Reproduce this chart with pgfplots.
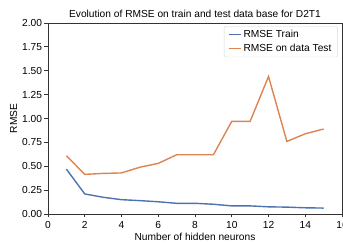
\documentclass[border=0pt]{standalone}
\usepackage{pgfplots}
\pgfplotsset{compat=1.18}
\usepackage{fontspec}
\setmainfont{Liberation Sans}
\definecolor{sbblue}{HTML}{4C72B0}
\definecolor{sborange}{HTML}{DD8452}
\begin{document}
\begin{tikzpicture}[x=1bp,y=1bp]
\begin{axis}[
  name=ax,
  scale only axis,
  width=294bp, height=191bp,
  xmin=0, xmax=16, ymin=0, ymax=2,
  xtick={0,2,...,16},
  ytick={0,0.25,...,2},
  yticklabel style={xshift=1bp, /pgf/number format/.cd,fixed,fixed zerofill,precision=2},
  /pgf/number format/assume math mode=true,
  tick align=outside,
  tick pos=left,
  major tick length=3.5bp,
  axis line style={black!80, line width=0.8bp},
  tick style={black!80, line width=0.8bp},
  font=\fontsize{10.2bp}{11.5bp}\selectfont,
  title={Evolution of RMSE on train and test data base for D2T1},
  title style={yshift=-4.5bp},
  xlabel={Number of hidden neurons},
  ylabel={RMSE},
  xlabel style={yshift=2bp},
  ylabel style={yshift=-2bp},
  legend pos=north east,
  legend style={draw=black!15, rounded corners=2bp, font=\fontsize{10.2bp}{11.5bp}\selectfont, inner xsep=4bp, inner ysep=2bp, row sep=1bp, at={(0.985,0.984)}},
  legend cell align=left,
  legend image code/.code={\draw[#1, line width=1.4bp] (0bp,0bp) -- (12bp,0bp);},
]
\addplot[sbblue, line width=1.4bp] coordinates {
(1,0.47) (2,0.21) (3,0.175) (4,0.15) (5,0.14) (6,0.128) (7,0.112) (8,0.112) (9,0.102) (10,0.085) (11,0.085) (12,0.075) (13,0.072) (14,0.065) (15,0.062)
};
\addlegendentry{RMSE Train}
\addplot[sborange, line width=1.4bp] coordinates {
(1,0.61) (2,0.415) (3,0.425) (4,0.43) (5,0.49) (6,0.53) (7,0.62) (8,0.62) (9,0.62) (10,0.97) (11,0.97) (12,1.44) (13,0.76) (14,0.84) (15,0.89)
};
\addlegendentry{RMSE on data Test}
\end{axis}
\pgfresetboundingbox
\path[use as bounding box] ([xshift=-48bp,yshift=-29bp]ax.south west) rectangle ([xshift=1bp,yshift=23bp]ax.north east);
\end{tikzpicture}
\end{document}
